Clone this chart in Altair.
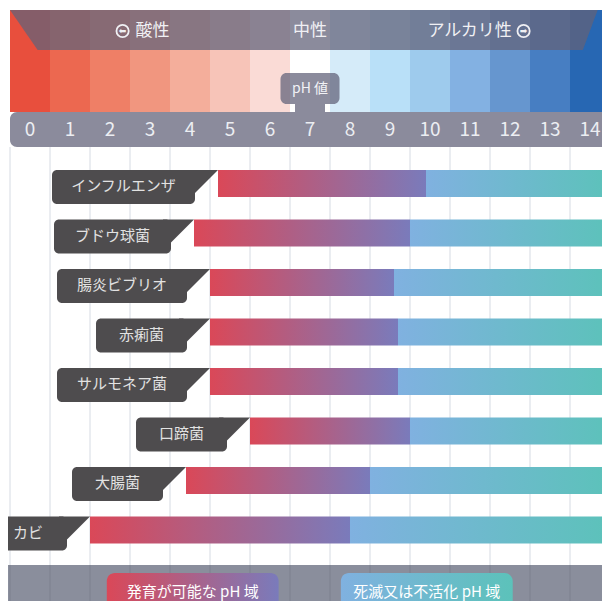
import altair as alt
import pandas as pd

# ---------------- data ----------------
PH_VALUES = list(range(15))
BAND_COLORS = ["#e84f3d", "#ec6850", "#ef7f66", "#f1967f", "#f4ae9b", "#f7c4b8",
               "#fadbd6", "#ffffff", "#d5ebf9", "#b9e0f8", "#9ecbed", "#83b1e2",
               "#6696cf", "#477ec2", "#2767b3"]
ORGANISMS = ["インフルエンザ", "ブドウ球菌", "腸炎ビブリオ", "赤痢菌",
             "サルモネア菌", "口蹄菌", "大腸菌", "カビ"]
GROW_MIN = [5.2, 4.6, 5.0, 5.0, 5.0, 6.0, 4.4, 2.0]
GROW_MAX = [10.4, 10.0, 9.6, 9.7, 9.7, 10.0, 9.0, 8.5]
SCALE_END = 15
ZONE_LABELS = ["酸性", "中性", "アルカリ性"]
LEGEND_LABELS = ["発育が可能な pH 域", "死滅又は不活化 pH 域"]
TAG_LABEL = "pH 値"

# ---------------- layout / style ----------------
FONT = "Noto Sans CJK JP"
W, H = 594, 593
PX = 40.0                      # pixels per pH unit
X0 = -2 / PX
X1 = X0 + W / PX
ROW0, STEP = 162.0, 49.5       # first bar top (plot px), row spacing
REF_PX = 40.5                  # helper for converting reference pixel positions


def ry(px):
    return (px - ROW0) / STEP


def dx(px):
    return px / PX


def ph_at(page_px):
    return (page_px - 10) / REF_PX


XS = alt.Scale(domain=[X0, X1], zero=False, nice=False)
YS = alt.Scale(domain=[ry(0), ry(H)], zero=False, nice=False, reverse=True)


def X(f):
    return alt.X(f, type="quantitative", scale=XS, axis=None)


def Y(f):
    return alt.Y(f, type="quantitative", scale=YS, axis=None)


OVERLAY = "#62627a"
OVERLAY_OP = 0.74
BOX = "#4e4c4e"
GRID = "#d6dbe3"
STRIP = "#8a8e9c"

grad_grow = alt.LinearGradient(
    gradient="linear", x1=0, x2=1, y1=0, y2=0,
    stops=[alt.GradientStop(offset=0, color="#da4858"),
           alt.GradientStop(offset=1, color="#7a7bbb")])
grad_kill = alt.LinearGradient(
    gradient="linear", x1=0, x2=1, y1=0, y2=0,
    stops=[alt.GradientStop(offset=0, color="#80b1e0"),
           alt.GradientStop(offset=1, color="#5cc2ba")])

# ---------------- tables ----------------
bands = pd.DataFrame({"ph": PH_VALUES, "ph2": [p + 1 for p in PH_VALUES],
                      "mid": [p + 0.5 for p in PH_VALUES],
                      "lab": [str(p) for p in PH_VALUES]})

rows = []
tails = []
for i, (name, lo, hi) in enumerate(zip(ORGANISMS, GROW_MIN, GROW_MAX)):
    box_r = lo - dx(23)
    box_l = box_r - dx(52 + 13 * len(name))
    rows.append(dict(name=name, row=i, row2=i + 27 / STEP, lo=lo, hi=hi, end=SCALE_END,
                     box_l=box_l, box_r=box_r, box_m=(box_l + box_r) / 2,
                     box_b=i + 34 / STEP, text_y=i + 16 / STEP))
    tails.append(dict(name=name, y=i, x=box_r - dx(8), x2=lo))
    tails.append(dict(name=name, y=i + 23 / STEP, x=box_r - dx(8), x2=box_r))
rows = pd.DataFrame(rows)
tails = pd.DataFrame(tails)

trap = pd.DataFrame({"y": [ry(2), ry(42)],
                     "x": [ph_at(10), ph_at(38)],
                     "x2": [ph_at(605), ph_at(590)]})

zones = pd.DataFrame({"lab": ZONE_LABELS,
                      "x": [ph_at(137), 7.5, ph_at(518)],
                      "align": ["left", "center", "right"]})
icons = pd.DataFrame({"x": [ph_at(124), ph_at(530)], "arrow": ["⬅", "➡"]})

legend = pd.DataFrame({"lab": LEGEND_LABELS,
                       "x": [ph_at(108), ph_at(345)],
                       "x2": [ph_at(282), ph_at(519)]})
legend["m"] = (legend["x"] + legend["x2"]) / 2

base_one = pd.DataFrame({"a": [X0], "b": [X1]})

layers = []

# grid lines in white area
layers.append(alt.Chart(bands).mark_rule(color=GRID, strokeWidth=1).encode(
    x=X("ph"), y=alt.value(139), y2=alt.value(557)))
# bottom strip
layers.append(alt.Chart(base_one).mark_rect(color=STRIP).encode(
    x=X("a"), x2="b", y=alt.value(557), y2=alt.value(H)))
layers.append(alt.Chart(bands).mark_rule(color="#7c808e", strokeWidth=1).encode(
    x=X("ph"), y=alt.value(557), y2=alt.value(H)))
# coloured pH bands
layers.append(alt.Chart(bands).mark_rect().encode(
    x=X("ph"), x2="ph2", y=alt.value(2), y2=alt.value(104),
    color=alt.Color("ph:O", scale=alt.Scale(domain=PH_VALUES, range=BAND_COLORS), legend=None)))
# header overlay
layers.append(alt.Chart(trap).mark_area(orient="horizontal", color=OVERLAY, opacity=OVERLAY_OP).encode(
    y=Y("y"), x=X("x"), x2="x2"))
# number strip
layers.append(alt.Chart(base_one).mark_rect(color=OVERLAY, opacity=OVERLAY_OP,
                                            cornerRadiusTopLeft=7, cornerRadiusBottomLeft=7).encode(
    x=alt.X("v:Q", scale=XS, axis=None), x2=alt.X2("w:Q"), y=alt.value(104), y2=alt.value(139)
).transform_calculate(v="0", w=f"{SCALE_END}"))
# pH tag
tag = pd.DataFrame({"l": [7.5 - dx(29.5)], "r": [7.5 + dx(29.5)], "sl": [7.5 - dx(15)],
                    "sr": [7.5 + dx(15)], "m": [7.5], "t": [TAG_LABEL]})
layers.append(alt.Chart(tag).mark_rect(color=OVERLAY, opacity=OVERLAY_OP, cornerRadius=6).encode(
    x=X("l"), x2="r", y=alt.value(65), y2=alt.value(96)))
layers.append(alt.Chart(tag).mark_rect(color=OVERLAY, opacity=OVERLAY_OP).encode(
    x=X("sl"), x2="sr", y=alt.value(96), y2=alt.value(104)))
layers.append(alt.Chart(tag).mark_text(font=FONT, fontSize=14, color="#f2f2f6", baseline="middle").encode(
    x=X("m"), y=alt.value(81), text="t:N"))
# header zone labels
for al in ["left", "center", "right"]:
    layers.append(alt.Chart(zones[zones["align"] == al]).mark_text(
        font=FONT, fontSize=17, color="#f0f0f4", baseline="middle", align=al).encode(
        x=X("x"), y=alt.value(23), text="lab:N"))
layers.append(alt.Chart(icons).mark_point(shape="circle", filled=False, size=150, strokeWidth=1.8,
                                          color="#f0f0f4", opacity=1).encode(
    x=X("x"), y=alt.value(23)))
layers.append(alt.Chart(icons).mark_text(font="DejaVu Sans", fontSize=9,
                                         color="#f0f0f4", baseline="middle").encode(
    x=X("x"), y=alt.value(23), text="arrow:N"))
# numbers
layers.append(alt.Chart(bands).mark_text(font=FONT, fontSize=19, color="#eceef2", baseline="middle").encode(
    x=X("mid"), y=alt.value(122), text="lab:N"))
# bars
layers.append(alt.Chart(rows).mark_bar(color=grad_grow).encode(
    x=X("lo"), x2="hi", y=Y("row"), y2="row2"))
layers.append(alt.Chart(rows).mark_bar(color=grad_kill).encode(
    x=X("hi"), x2="end", y=Y("row"), y2="row2"))
# label boxes
layers.append(alt.Chart(rows).mark_bar(color=BOX, cornerRadius=5).encode(
    x=X("box_l"), x2="box_r", y=Y("row"), y2="box_b"))
layers.append(alt.Chart(tails).mark_area(orient="horizontal", color=BOX).encode(
    y=Y("y"), x=X("x"), x2="x2", detail="name:N"))
layers.append(alt.Chart(rows).mark_text(font=FONT, fontSize=15, color="#e2e2e2", baseline="middle").encode(
    x=X("box_m"), y=Y("text_y"), text="name:N"))
# legend
layers.append(alt.Chart(legend.iloc[[0]]).mark_bar(color=grad_grow, cornerRadius=8).encode(
    x=X("x"), x2="x2", y=alt.value(565), y2=alt.value(620)))
layers.append(alt.Chart(legend.iloc[[1]]).mark_bar(color=grad_kill, cornerRadius=8).encode(
    x=X("x"), x2="x2", y=alt.value(565), y2=alt.value(620)))
layers.append(alt.Chart(legend).mark_text(font=FONT, fontSize=15, color="#ffffff", baseline="middle").encode(
    x=X("m"), y=alt.value(584), text="lab:N"))

chart = alt.layer(*layers).properties(
    width=W, height=H, padding=0, autosize=alt.AutoSizeParams(type="none")
).configure_view(stroke=None)

chart.save("out.html", embed_options={"renderer": "svg", "actions": False})
